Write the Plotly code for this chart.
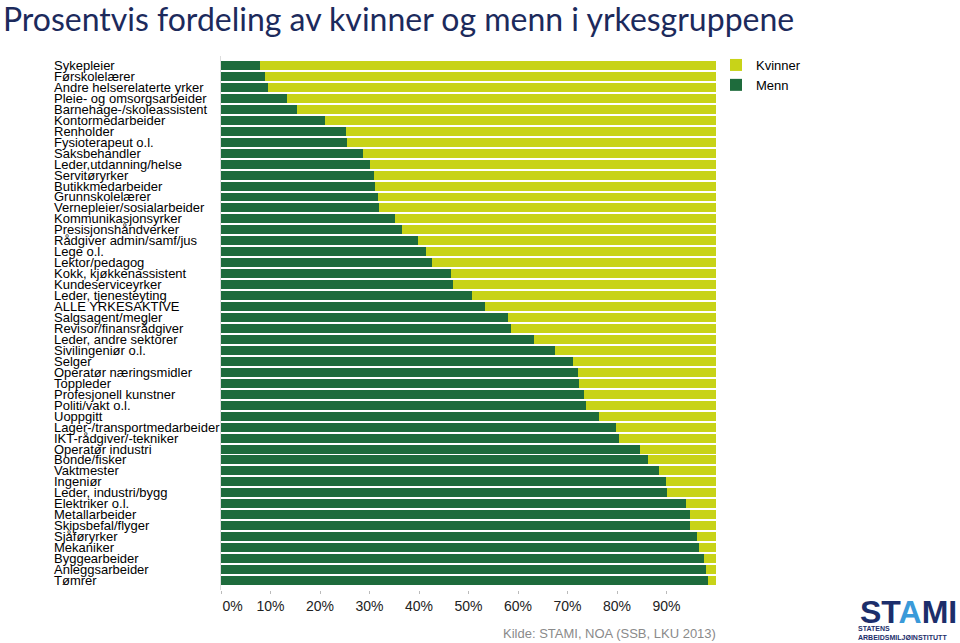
import plotly.graph_objects as go

categories = [
    "Sykepleier", "Førskolelærer", "Andre helserelaterte yrker", "Pleie- og omsorgsarbeider",
    "Barnehage-/skoleassistent", "Kontormedarbeider", "Renholder", "Fysioterapeut o.l.",
    "Saksbehandler", "Leder,utdanning/helse", "Servitøryrker", "Butikkmedarbeider",
    "Grunnskolelærer", "Vernepleier/sosialarbeider", "Kommunikasjonsyrker", "Presisjonshåndverker",
    "Rådgiver admin/samf/jus", "Lege o.l.", "Lektor/pedagog", "Kokk, kjøkkenassistent",
    "Kundeserviceyrker", "Leder, tjenesteyting", "ALLE YRKESAKTIVE", "Salgsagent/megler",
    "Revisor/finansrådgiver", "Leder, andre sektorer", "Sivilingeniør o.l.", "Selger",
    "Operatør næringsmidler", "Toppleder", "Profesjonell kunstner", "Politi/vakt o.l.",
    "Uoppgitt", "Lager-/transportmedarbeider", "IKT-rådgiver/-tekniker", "Operatør industri",
    "Bonde/fisker", "Vaktmester", "Ingeniør", "Leder, industri/bygg",
    "Elektriker o.l.", "Metallarbeider", "Skipsbefal/flyger", "Sjåføryrker",
    "Mekaniker", "Byggearbeider", "Anleggsarbeider", "Tømrer",
]

menn = [
    7.9, 8.9, 9.4, 13.3, 15.4, 21.1, 25.3, 25.5,
    28.6, 30.2, 31.0, 31.1, 31.8, 31.9, 35.2, 36.5,
    39.7, 41.4, 42.6, 46.4, 46.8, 50.7, 53.3, 58.0,
    58.6, 63.2, 67.5, 71.2, 72.2, 72.3, 73.4, 73.7,
    76.4, 79.7, 80.5, 84.7, 86.3, 88.5, 89.8, 90.2,
    93.9, 94.8, 94.8, 96.2, 96.6, 97.5, 98.0, 98.4,
]
kvinner = [round(100 - m, 1) for m in menn]

tick_vals = [0, 10, 20, 30, 40, 50, 60, 70, 80, 90]
tick_text = ["\u00a0\u00a0\u00a0\u00a0\u00a0\u00a00%", "10%", "20%", "30%", "40%", "50%", "60%", "70%", "80%", "90%"]

MENN_COLOR = "#1E6B3C"
KVINNER_COLOR = "#C8D318"

fig = go.Figure()
fig.add_trace(go.Bar(y=categories, x=menn, orientation="h", name="Menn",
                     marker=dict(color=MENN_COLOR, line=dict(width=0))))
fig.add_trace(go.Bar(y=categories, x=kvinner, orientation="h", name="Kvinner",
                     marker=dict(color=KVINNER_COLOR, line=dict(width=0))))

L, R, T, B = 221, 244, 56, 53
W, H = 960, 643
pw = W - L - R
ph = H - T - B


def px_x(x):
    return (x - L) / pw


def px_y(y):
    return (H - B - y) / ph


annotations = []
for c in categories:
    annotations.append(dict(
        x=px_x(52), xref="paper", y=c, yref="y", text=c, showarrow=False,
        xanchor="left", yanchor="middle",
        font=dict(family="Liberation Sans, Arial", size=13, color="#000000"),
    ))

annotations.append(dict(
    x=px_x(718), xref="paper", y=px_y(633), yref="paper", yanchor="middle",
    xanchor="right", text="Kilde: STAMI, NOA (SSB, LKU 2013)", showarrow=False,
    font=dict(family="Liberation Sans, Arial", size=13, color="#8A8A8A"),
))
# logo-like text
annotations.append(dict(
    x=px_x(908), xref="paper", y=px_y(612), yref="paper",
    xanchor="center", yanchor="middle", showarrow=False,
    text="<b>ST<span style='color:#3A9AD9'>A</span>MI</b>",
    font=dict(family="Liberation Sans, Arial", size=32, color="#1C2E6B"),
))
annotations.append(dict(
    x=px_x(856), xref="paper", y=px_y(633), yref="paper",
    xanchor="left", yanchor="middle", showarrow=False, align="left",
    text="<b>STATENS<br>ARBEIDSMILJØINSTITUTT</b>",
    font=dict(family="Liberation Sans, Arial", size=7, color="#1C2E6B"),
))

fig.update_layout(
    width=W, height=H,
    barmode="stack", bargap=0.18,
    margin=dict(l=L, r=R, t=T, b=B),
    paper_bgcolor="white", plot_bgcolor="white",
    title=dict(text="Prosentvis fordeling av kvinner og menn i yrkesgruppene",
               x=0.003, xanchor="left", y=1 - 20 / H, yanchor="middle",
               font=dict(family="Lato, Calibri, sans-serif", size=32, color="#1C2A5C")),
    legend=dict(x=px_x(716), xanchor="left", y=px_y(50), yanchor="top",
                traceorder="reversed", bgcolor="rgba(0,0,0,0)",
                font=dict(family="Liberation Sans, Arial", size=13, color="#000000"),
                itemwidth=30, tracegroupgap=2),
    annotations=annotations,
    showlegend=True,
)
fig.update_xaxes(range=[0, 100], tickvals=tick_vals, ticktext=tick_text,
                 showgrid=False, zeroline=False, ticks="outside", ticklen=3,
                 tickcolor="#BBBBBB", showline=False,
                 tickfont=dict(family="Liberation Sans, Arial", size=14, color="#222222"))
fig.update_yaxes(autorange="reversed", showticklabels=False, showgrid=False,
                 zeroline=False, showline=True, linecolor="#DDDDDD", linewidth=1,
                 ticks="")

fig.write_html("out.html")
